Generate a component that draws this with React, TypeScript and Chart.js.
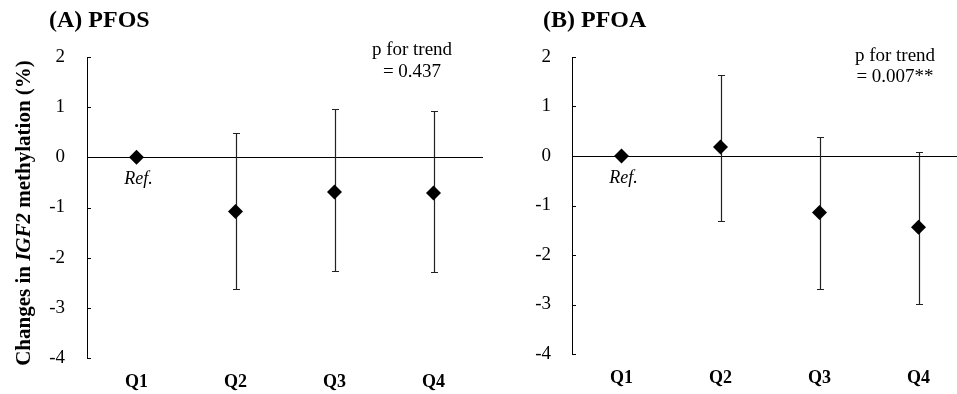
import React, { useEffect, useRef } from "react";
import { Chart, registerables } from "chart.js";

Chart.register(...registerables);

const categories = ["Q1", "Q2", "Q3", "Q4"];
const yTicks = [-4, -3, -2, -1, 0, 1, 2];

const pfosMean = [0, -1.08, -0.69, -0.71];
const pfosLower = [null, -2.62, -2.27, -2.29];
const pfosUpper = [null, 0.48, 0.97, 0.92];

const pfoaMean = [0, 0.18, -1.14, -1.44];
const pfoaLower = [null, -1.31, -2.68, -2.98];
const pfoaUpper = [null, 1.63, 0.39, 0.09];

const SERIF = "'Liberation Serif', 'Times New Roman', Times, serif";

type Panel = {
  key: string;
  mean: number[];
  lower: (number | null)[];
  upper: (number | null)[];
  title: string;
  pLines: string[];
  canvasLeft: number;
  canvasWidth: number;
  yAxisWidth: number;
  padRight: number;
  padTop: number;
  xAxisHeight: number;
  titleX: number;
  titleBaseline: number;
  pCenterX: number;
  pBaselines: number[];
  yTickPad: number;
  showYTitle: boolean;
};

const panels: Panel[] = [
  {
    key: "A",
    mean: pfosMean,
    lower: pfosLower,
    upper: pfosUpper,
    title: "(A) PFOS",
    pLines: ["p for trend", "= 0.437"],
    canvasLeft: 0,
    canvasWidth: 500,
    yAxisWidth: 87,
    padRight: 17,
    padTop: 57,
    xAxisHeight: 36,
    titleX: 49,
    titleBaseline: 27,
    pCenterX: 412,
    pBaselines: [55, 77],
    yTickPad: 22,
    showYTitle: true,
  },
  {
    key: "B",
    mean: pfoaMean,
    lower: pfoaLower,
    upper: pfoaUpper,
    title: "(B) PFOA",
    pLines: ["p for trend", "= 0.007**"],
    canvasLeft: 500,
    canvasWidth: 480,
    yAxisWidth: 72,
    padRight: 12,
    padTop: 57,
    xAxisHeight: 40,
    titleX: 43,
    titleBaseline: 27,
    pCenterX: 395,
    pBaselines: [61, 82],
    yTickPad: 21,
    showYTitle: false,
  },
];

function makePlugin(p: Panel) {
  return {
    id: "decor" + p.key,
    beforeDatasetsDraw(chart: any) {
      const ctx = chart.ctx;
      const xs = chart.scales.x;
      const ys = chart.scales.y;
      ctx.save();
      ctx.strokeStyle = "#222";
      ctx.lineWidth = 1.2;
      for (let i = 0; i < p.mean.length; i++) {
        const lo = p.lower[i];
        const hi = p.upper[i];
        if (lo == null || hi == null) continue;
        const x = Math.round(xs.getPixelForValue(i)) + 0.5;
        const yl = Math.round(ys.getPixelForValue(lo)) + 0.5;
        const yh = Math.round(ys.getPixelForValue(hi)) + 0.5;
        ctx.beginPath();
        ctx.moveTo(x, yl);
        ctx.lineTo(x, yh);
        ctx.moveTo(x - 3.5, yl);
        ctx.lineTo(x + 3.5, yl);
        ctx.moveTo(x - 3.5, yh);
        ctx.lineTo(x + 3.5, yh);
        ctx.stroke();
      }
      ctx.restore();
    },
    afterDraw(chart: any) {
      const ctx = chart.ctx;
      const xs = chart.scales.x;
      const ys = chart.scales.y;
      const area = chart.chartArea;
      ctx.save();
      // inner tick marks
      ctx.strokeStyle = "#000";
      ctx.lineWidth = 1;
      ctx.beginPath();
      for (const t of ys.ticks) {
        const y = Math.round(ys.getPixelForValue(t.value)) + 0.5;
        ctx.moveTo(area.left, y);
        ctx.lineTo(area.left + 4, y);
      }
      ctx.stroke();

      ctx.fillStyle = "#000";
      // title
      ctx.font = `bold 24px ${SERIF}`;
      ctx.textAlign = "left";
      ctx.textBaseline = "alphabetic";
      ctx.fillText(p.title, p.titleX, p.titleBaseline);

      // p for trend
      ctx.font = `19px ${SERIF}`;
      ctx.textAlign = "center";
      p.pLines.forEach((line, i) => {
        ctx.fillText(line, p.pCenterX, p.pBaselines[i]);
      });

      // Ref. label
      ctx.font = `italic 18px ${SERIF}`;
      ctx.textAlign = "center";
      ctx.fillText(
        "Ref.",
        xs.getPixelForValue(0) + 2,
        ys.getPixelForValue(p.mean[0]) + 27
      );

      // y axis title
      if (p.showYTitle) {
        const parts = [
          { t: "Changes in ", f: `bold 21px ${SERIF}` },
          { t: "IGF2", f: `italic bold 21px ${SERIF}` },
          { t: " methylation (%)", f: `bold 21px ${SERIF}` },
        ];
        let total = 0;
        const widths = parts.map((pt) => {
          ctx.font = pt.f;
          const w = ctx.measureText(pt.t).width;
          total += w;
          return w;
        });
        ctx.translate(30, 213);
        ctx.rotate(-Math.PI / 2);
        ctx.textAlign = "left";
        ctx.textBaseline = "alphabetic";
        let x = -total / 2;
        parts.forEach((pt, i) => {
          ctx.font = pt.f;
          ctx.fillText(pt.t, x, 0);
          x += widths[i];
        });
      }
      ctx.restore();
    },
  };
}

function PanelChart({ p }: { p: Panel }) {
  const ref = useRef<HTMLCanvasElement | null>(null);
  useEffect(() => {
    if (!ref.current) return;
    const chart = new Chart(ref.current, {
      type: "line",
      data: {
        labels: categories,
        datasets: [
          {
            data: p.mean,
            showLine: false,
            pointStyle: "rectRot",
            pointRadius: 7.5,
            pointHoverRadius: 7.5,
            pointBackgroundColor: "#000",
            pointBorderColor: "#000",
            pointBorderWidth: 0,
          },
        ],
      },
      options: {
        responsive: false,
        animation: false,
        devicePixelRatio: 1,
        layout: { padding: { left: 0, right: p.padRight, top: p.padTop, bottom: 0 } },
        plugins: {
          legend: { display: false },
          tooltip: { enabled: false },
          title: { display: false },
        },
        scales: {
          x: {
            type: "category",
            offset: true,
            grid: { display: false, drawTicks: false },
            border: { display: false },
            ticks: {
              color: "#000",
              font: { family: SERIF, size: 18, weight: "bold" },
              padding: 14,
              maxRotation: 0,
            },
            afterFit: (s: any) => {
              s.height = p.xAxisHeight;
            },
          },
          y: {
            min: -4,
            max: 2,
            afterBuildTicks: (s: any) => {
              s.ticks = yTicks.map((v) => ({ value: v }));
            },
            ticks: {
              color: "#000",
              font: { family: SERIF, size: 19 },
              padding: p.yTickPad,
            },
            grid: {
              drawTicks: false,
              lineWidth: 1,
              color: (c: any) => (c.tick && c.tick.value === 0 ? "#000" : "rgba(0,0,0,0)"),
            },
            border: { display: true, color: "#000", width: 1 },
            afterFit: (s: any) => {
              s.width = p.yAxisWidth;
            },
          },
        },
      },
      plugins: [makePlugin(p)],
    } as any);
    return () => chart.destroy();
  }, [p]);
  return (
    <canvas
      ref={ref}
      width={p.canvasWidth}
      height={394}
      style={{
        position: "absolute",
        left: p.canvasLeft,
        top: 0,
        width: p.canvasWidth,
        height: 394,
        display: "block",
      }}
    />
  );
}

export default function App() {
  return (
    <div
      style={{
        position: "fixed",
        left: 0,
        top: 0,
        width: 957,
        height: 394,
        overflow: "hidden",
        background: "#fff",
      }}
    >
      {panels.map((p) => (
        <PanelChart key={p.key} p={p} />
      ))}
    </div>
  );
}
